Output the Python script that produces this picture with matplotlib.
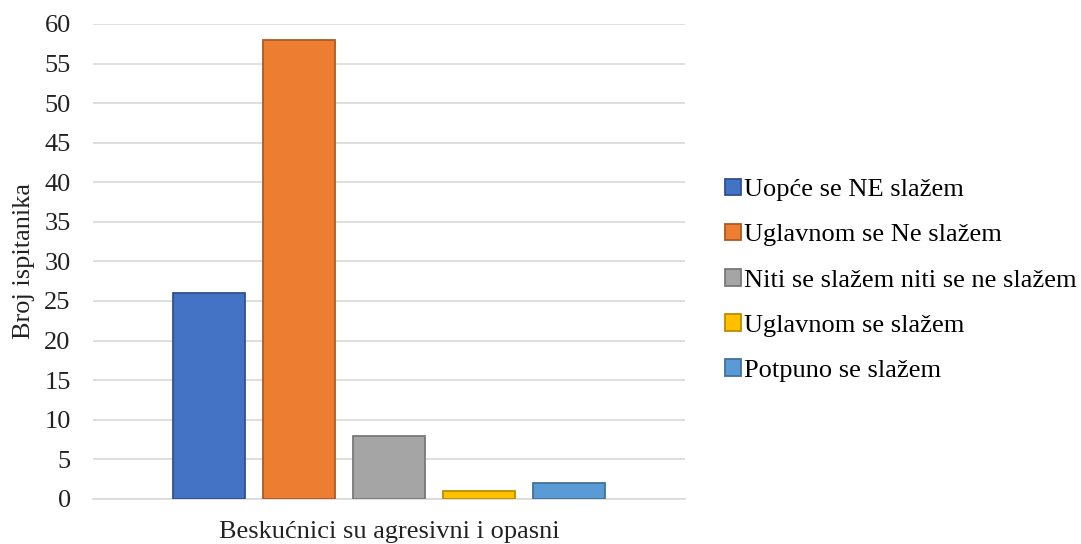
import matplotlib.pyplot as plt
import numpy as np

plt.rcParams['font.family'] = ['Liberation Serif', 'DejaVu Serif']

category = "Beskućnici su agresivni i opasni"
labels = ["Uopće se NE slažem", "Uglavnom se Ne slažem",
          "Niti se slažem niti se ne slažem", "Uglavnom se slažem",
          "Potpuno se slažem"]
values = [26, 58, 8, 1, 2]
colors = ["#4472C4", "#ED7D31", "#A5A5A5", "#FFC000", "#5B9BD5"]
edges = ["#2F528F", "#AE5A21", "#787878", "#BC8C00", "#41719C"]

fig = plt.figure(figsize=(10.81, 5.44), dpi=100)
ax = fig.add_axes([0.086, 0.083, 0.548, 0.873])

step = 0.152
width = 0.122
offsets = (np.arange(len(values)) - 2) * step
for off, v, c, e, lab in zip(offsets, values, colors, edges, labels):
    ax.bar(off, v, width=width, color=c, edgecolor=e, linewidth=1.3, label=lab, zorder=3)

ax.set_xlim(-0.5, 0.5)
ax.set_ylim(0, 60)
ax.set_yticks(range(0, 61, 5))
ax.set_xticks([0])
ax.set_xticklabels([category])
ax.tick_params(axis='both', length=0, labelsize=19, colors='#222222')
ax.tick_params(axis='x', pad=16)
ax.tick_params(axis='y', pad=16)
ax.grid(axis='y', color='#D9D9D9', linewidth=1.2, zorder=0)
for s in ['top', 'right', 'left']:
    ax.spines[s].set_visible(False)
ax.spines['bottom'].set_color('#D9D9D9')
ax.spines['bottom'].set_linewidth(1.2)
ax.set_ylabel("Broj ispitanika", fontsize=19, color='#222222', labelpad=7)

fig.legend(loc='center left', bbox_to_anchor=(0.649, 0.485), frameon=False,
           fontsize=19, handlelength=0.6, handleheight=0.6,
           handletextpad=0.12, labelspacing=0.85)

plt.savefig("out.png", dpi=100)
